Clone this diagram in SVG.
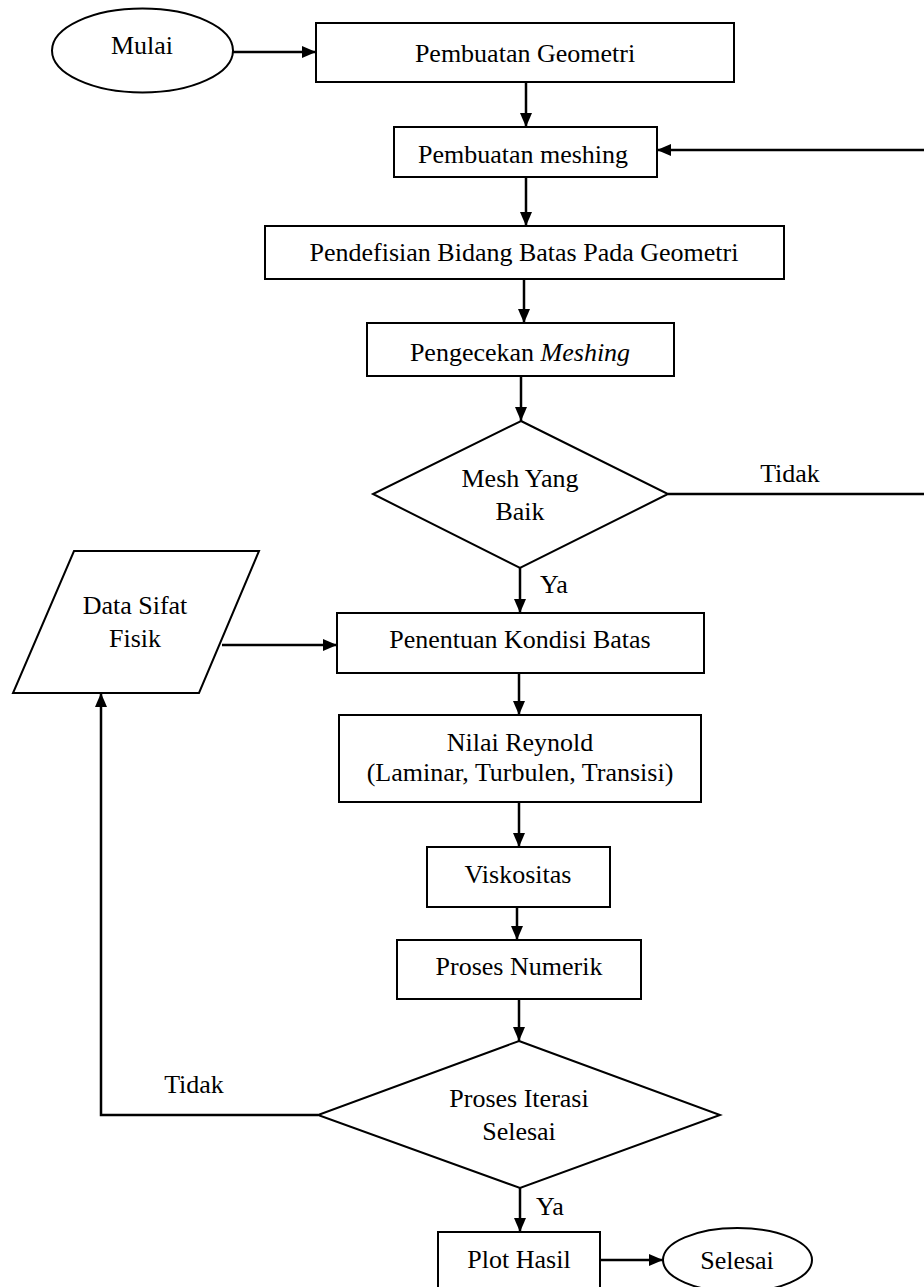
<svg xmlns="http://www.w3.org/2000/svg" width="924" height="1287" viewBox="0 0 924 1287">
<defs>
<marker id="arr" markerUnits="userSpaceOnUse" markerWidth="16" markerHeight="14" refX="14" refY="6" orient="auto">
<path d="M0,0 L14,6 L0,12 Z" fill="#000"/>
</marker>
<style>
.s{fill:#fff;stroke:#000;stroke-width:2}
.t{font-family:"Liberation Serif","Times New Roman",serif;font-size:26px;fill:#000;text-anchor:middle}
.l{font-family:"Liberation Serif","Times New Roman",serif;font-size:26px;fill:#000}
.c{fill:none;stroke:#000;stroke-width:2.5;marker-end:url(#arr)}
.n{fill:none;stroke:#000;stroke-width:2.5}
</style>
</defs>
<rect width="924" height="1287" fill="#fff"/>
<g id="connectors">
<path class="c" d="M233,52 H316"/>
<path class="c" d="M526,82 V127"/>
<path class="c" d="M526,177 V226"/>
<path class="c" d="M524,279 V323"/>
<path class="c" d="M521,376 V421"/>
<path class="c" d="M520,568 V613"/>
<path class="c" d="M668,494 H930 V150 H657"/>
<path class="c" d="M222,645 H337"/>
<path class="c" d="M519,673 V715"/>
<path class="c" d="M519,802 V847"/>
<path class="c" d="M517,907 V940"/>
<path class="c" d="M519,999 V1041"/>
<path class="c" d="M318,1115 H101 V693"/>
<path class="c" d="M520,1188 V1232"/>
<path class="c" d="M600,1260 H663"/>
<text class="l" x="790" y="482" text-anchor="middle">Tidak</text>
<text class="l" x="540" y="593">Ya</text>
<text class="l" x="194" y="1093" text-anchor="middle">Tidak</text>
<text class="l" x="536" y="1215">Ya</text>
</g>
<g id="mulai">
<ellipse class="s" cx="142.5" cy="50.5" rx="90.5" ry="42"/>
<text class="t" x="142" y="53.5">Mulai</text>
</g>
<g id="geometri">
<rect class="s" x="316" y="23" width="418" height="59"/>
<text class="t" x="525" y="62">Pembuatan Geometri</text>
</g>
<g id="meshing">
<rect class="s" x="394" y="127" width="263" height="50"/>
<text class="t" x="523" y="163">Pembuatan meshing</text>
</g>
<g id="pendefisian">
<rect class="s" x="265" y="226" width="519" height="53"/>
<text class="t" x="524" y="261">Pendefisian Bidang Batas Pada Geometri</text>
</g>
<g id="pengecekan">
<rect class="s" x="367" y="323" width="307" height="53"/>
<text class="t" x="520" y="361">Pengecekan <tspan font-style="italic">Meshing</tspan></text>
</g>
<g id="mesh-baik">
<polygon class="s" points="521,421 668,494 520,568 373,494"/>
<text class="t" x="520" y="487">Mesh Yang</text>
<text class="t" x="520" y="520">Baik</text>
</g>
<g id="data-sifat">
<polygon class="s" points="74,551 259,551 199,693 13,693"/>
<text class="t" x="135" y="614">Data Sifat</text>
<text class="t" x="135" y="647">Fisik</text>
</g>
<g id="penentuan">
<rect class="s" x="337" y="613" width="367" height="60"/>
<text class="t" x="520" y="648">Penentuan Kondisi Batas</text>
</g>
<g id="reynold">
<rect class="s" x="339" y="715" width="362" height="87"/>
<text class="t" x="520" y="751">Nilai Reynold</text>
<text class="t" x="520" y="781">(Laminar, Turbulen, Transisi)</text>
</g>
<g id="viskositas">
<rect class="s" x="427" y="847" width="183" height="60"/>
<text class="t" x="518" y="883">Viskositas</text>
</g>
<g id="numerik">
<rect class="s" x="397" y="940" width="244" height="59"/>
<text class="t" x="519" y="975">Proses Numerik</text>
</g>
<g id="iterasi">
<polygon class="s" points="519,1041 720,1115 520,1188 318,1115"/>
<text class="t" x="519" y="1107">Proses Iterasi</text>
<text class="t" x="519" y="1140">Selesai</text>
</g>
<g id="plot">
<rect class="s" x="438" y="1232" width="162" height="60"/>
<text class="t" x="519" y="1268">Plot Hasil</text>
</g>
<g id="selesai">
<ellipse class="s" cx="737.5" cy="1260" rx="74.5" ry="32"/>
<text class="t" x="737" y="1269">Selesai</text>
</g>
</svg>
